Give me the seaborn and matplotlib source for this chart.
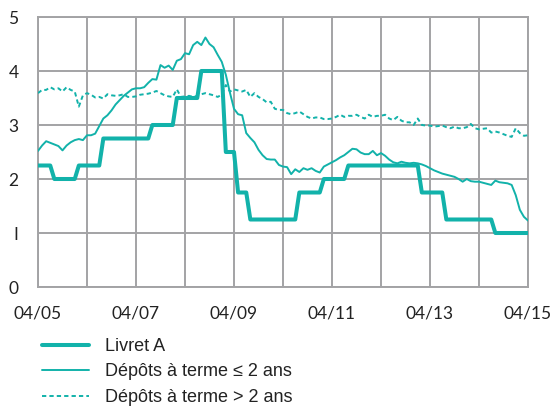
import numpy as np
import pandas as pd
import matplotlib
matplotlib.use("Agg")
import matplotlib.pyplot as plt
import seaborn as sns

# Monthly observations, April 2005 (month 0) to April 2015 (month 120)
months = list(range(121))

livret_a = (
    [2.25] * 4 + [2.00] * 6 + [2.25] * 6 + [2.75] * 12 + [3.00] * 6 +
    [3.50] * 6 + [4.00] * 6 + [2.50] * 3 + [1.75] * 3 + [1.25] * 12 +
    [1.75] * 6 + [2.00] * 6 + [2.25] * 18 + [1.75] * 6 + [1.25] * 12 +
    [1.00] * 9
)

depots_court = [
    2.52, 2.62, 2.70, 2.67, 2.64, 2.61, 2.53, 2.62, 2.68, 2.72,
    2.74, 2.72, 2.81, 2.81, 2.84, 2.98, 3.12, 3.18, 3.27, 3.38,
    3.46, 3.54, 3.60, 3.66, 3.68, 3.68, 3.70, 3.78, 3.85, 3.84,
    4.11, 4.06, 4.10, 4.02, 4.19, 4.22, 4.33, 4.31, 4.48, 4.54,
    4.48, 4.62, 4.50, 4.44, 4.30, 4.17, 3.93, 3.60, 3.30, 3.20,
    3.18, 2.85, 2.76, 2.68, 2.54, 2.44, 2.37, 2.36, 2.36, 2.26,
    2.23, 2.22, 2.09, 2.18, 2.13, 2.20, 2.17, 2.20, 2.15, 2.12,
    2.23, 2.27, 2.31, 2.35, 2.40, 2.44, 2.50, 2.56, 2.55, 2.49,
    2.46, 2.46, 2.52, 2.44, 2.48, 2.43, 2.36, 2.31, 2.29, 2.32,
    2.30, 2.29, 2.30, 2.29, 2.27, 2.24, 2.20, 2.16, 2.13, 2.10,
    2.08, 2.06, 2.04, 2.00, 1.95, 2.00, 1.96, 1.95, 1.95, 1.93,
    1.91, 1.89, 1.97, 1.94, 1.93, 1.92, 1.89, 1.70, 1.43, 1.30,
    1.23,
]

depots_long = [
    3.59, 3.65, 3.65, 3.70, 3.66, 3.68, 3.62, 3.70, 3.65, 3.62,
    3.34, 3.55, 3.59, 3.56, 3.51, 3.52, 3.49, 3.57, 3.55, 3.54,
    3.55, 3.57, 3.52, 3.52, 3.53, 3.56, 3.57, 3.58, 3.60, 3.63,
    3.59, 3.55, 3.53, 3.52, 3.66, 3.52, 3.53, 3.54, 3.52, 3.54,
    3.57, 3.59, 3.57, 3.55, 3.52, 3.56, 3.74, 3.62, 3.66, 3.64,
    3.62, 3.65, 3.52, 3.59, 3.52, 3.48, 3.42, 3.43, 3.30, 3.28,
    3.28, 3.22, 3.20, 3.22, 3.25, 3.20, 3.15, 3.12, 3.14, 3.14,
    3.11, 3.11, 3.12, 3.15, 3.19, 3.15, 3.17, 3.17, 3.19, 3.15,
    3.12, 3.19, 3.15, 3.17, 3.17, 3.19, 3.12, 3.09, 3.15, 3.08,
    3.05, 3.05, 3.00, 3.12, 3.00, 2.99, 2.99, 2.97, 2.98, 2.99,
    2.96, 2.94, 2.97, 2.94, 2.94, 2.96, 3.02, 2.94, 2.92, 2.93,
    2.94, 2.86, 2.88, 2.86, 2.83, 2.80, 2.78, 2.94, 2.85, 2.80,
    2.81,
]

x_ticks = [0, 24, 48, 72, 96, 120]
x_tick_labels = ["04/05", "04/07", "04/09", "04/11", "04/13", "04/15"]
y_ticks = [0, 1, 2, 3, 4, 5]
y_tick_labels = ["0", "I", "2", "3", "4", "5"]

series_names = ["Livret A", "Dépôts à terme ≤ 2 ans", "Dépôts à terme > 2 ans"]

df = pd.DataFrame({
    "mois": months * 3,
    "taux": livret_a + depots_court + depots_long,
    "serie": [series_names[0]] * 121 + [series_names[1]] * 121 + [series_names[2]] * 121,
})

teal = "#12B2AA"
grid_col = "#A3A3A5"
text_col = "#222222"

sns.set_style("white")
plt.rcParams["font.family"] = ["Lato", "DejaVu Sans"]

fig = plt.figure(figsize=(5.52, 4.07), dpi=100)
ax = fig.add_axes([38 / 552, 1 - 287 / 407, 490 / 552, 270 / 407])

styles = {
    series_names[0]: dict(lw=2.9, ls="-"),
    series_names[1]: dict(lw=1.4, ls="-"),
    series_names[2]: dict(lw=1.4, ls=(0, (2.2, 1.6))),
}
for name in series_names:
    sub = df[df["serie"] == name]
    sns.lineplot(data=sub, x="mois", y="taux", ax=ax, color=teal,
                 linewidth=styles[name]["lw"], linestyle=styles[name]["ls"],
                 label=name, zorder=3)

ax.set_xlim(0, 120)
ax.set_ylim(0, 5)

# Yearly gridlines; labels every two years
ax.set_xticks(x_ticks)
ax.set_xticklabels(x_tick_labels)
ax.set_xticks(np.arange(12, 121, 24), minor=True)
ax.set_yticks(y_ticks)
ax.set_yticklabels(y_tick_labels)
ax.grid(True, which="both", axis="x", color=grid_col, lw=1.4)
ax.grid(True, which="major", axis="y", color=grid_col, lw=1.4)
ax.set_axisbelow(True)
ax.tick_params(axis="both", which="both", length=0, labelsize=12.5, colors=text_col)
ax.tick_params(axis="x", pad=13)
ax.tick_params(axis="y", pad=14)
for s in ax.spines.values():
    s.set_color(grid_col)
    s.set_linewidth(1.4)
ax.set_xlabel("")
ax.set_ylabel("")

handles, labels = ax.get_legend_handles_labels()
ax.get_legend().remove()
leg = fig.legend(handles, labels, loc="upper left",
                 bbox_to_anchor=(42 / 552, 1 - 338 / 407),
                 frameon=False, borderpad=0, borderaxespad=0,
                 handlelength=2.6, handletextpad=0.9,
                 labelspacing=0.47, prop={"family": "Liberation Sans", "size": 13})
for t in leg.get_texts():
    t.set_color(text_col)

fig.savefig("out.png", dpi=100)
